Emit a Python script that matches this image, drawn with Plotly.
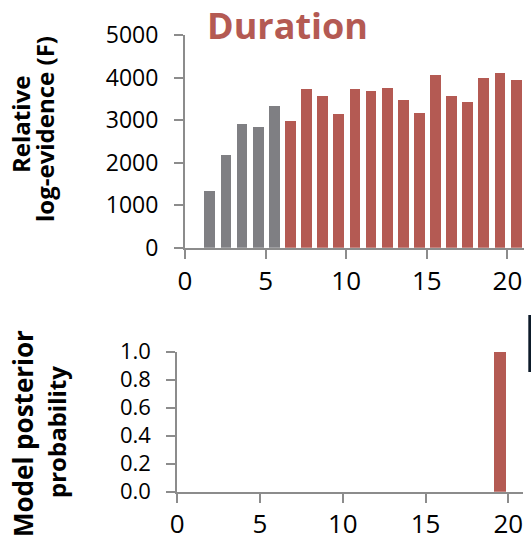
import plotly.graph_objects as go

# ---- data ----
models = list(range(1, 21))
log_evidence = [1340, 2190, 2900, 2840, 3335, 2990, 3720, 3575, 3140, 3735,
                3695, 3745, 3470, 3175, 4055, 3570, 3420, 3985, 4105, 3945]
posterior = [0.0] * 18 + [1.0, 0.0]
n_grey = 5
x_ticks = [0, 5, 10, 15, 20]
y_ticks_top = [0, 1000, 2000, 3000, 4000, 5000]
y_ticks_bot = [0.0, 0.2, 0.4, 0.6, 0.8, 1.0]

W, H = 531, 539
GREY = "#7f7f83"
RED = "#b45a53"
AX = "#8c8c8c"
FONT = "Open Sans"

def px(x):
    return x / W

def py(y):
    return 1 - y / H

colors = [GREY if i < n_grey else RED for i in range(len(models))]

fig = go.Figure()
fig.add_trace(go.Bar(x=models, y=log_evidence, marker=dict(color=colors, line=dict(width=0)),
                     width=0.67, offset=0.205, xaxis="x", yaxis="y", showlegend=False))
fig.add_trace(go.Bar(x=models, y=posterior, marker=dict(color=RED, line=dict(width=0)),
                     width=0.72, offset=0.14, xaxis="x2", yaxis="y2", showlegend=False))

axis_common = dict(showline=True, linecolor=AX, linewidth=2, ticks="outside", ticklen=9,
                   tickcolor=AX, tickwidth=2, showgrid=False, zeroline=False,
                   automargin=False, fixedrange=True)

fig.update_layout(
    template="none",
    width=W, height=H,
    margin=dict(l=0, r=0, t=0, b=0, pad=0, autoexpand=False),
    paper_bgcolor="white", plot_bgcolor="white",
    bargap=0,
    showlegend=False,
    xaxis=dict(domain=[px(185), px(524)], range=[0, 21.03], tickvals=x_ticks,
               tickfont=dict(family=FONT, size=26, color="black"), anchor="y",
               **axis_common),
    yaxis=dict(domain=[py(247.7), py(35)], range=[0, 5000], tickvals=y_ticks_top,
               tickfont=dict(family=FONT, size=23, color="black"), anchor="x",
               ticklabelstandoff=11, **axis_common),
    xaxis2=dict(domain=[px(177.3), px(523)], range=[0, 20.89], tickvals=x_ticks,
                tickfont=dict(family=FONT, size=26, color="black"), anchor="y2",
                ticklabelstandoff=-1, **axis_common),
    yaxis2=dict(domain=[py(491.7), py(351.7)], range=[0, 1], tickvals=y_ticks_bot,
                tickformat=".1f",
                tickfont=dict(family=FONT, size=22, color="black"), anchor="x2",
                ticklabelstandoff=11, **axis_common),
)

def ann(text, x, y, size, color="black", angle=0):
    fig.add_annotation(text=text, x=px(x), y=py(y), xref="paper", yref="paper",
                       showarrow=False, textangle=angle, xanchor="center", yanchor="middle",
                       font=dict(family=FONT, size=size, color=color))

ann("<b>Duration</b>", 287, 26, 36, color=RED)
ann("<b>Relative</b>", 21, 125, 24, angle=-90)
ann("<b>log-evidence (F)</b>", 44, 129, 24, angle=-90)
ann("<b>Model posterior</b>", 23, 434, 26, angle=-90)
ann("<b>probability</b>", 56, 432, 24, angle=-90)

fig.add_shape(type="rect", xref="paper", yref="paper", x0=px(528.3), x1=1,
              y0=py(372), y1=py(315), fillcolor="#0d1b2a", line=dict(width=0))

fig.write_html("out.html", config={"displayModeBar": False},
               post_script="document.body.style.margin='0';document.body.style.overflow='hidden';")
